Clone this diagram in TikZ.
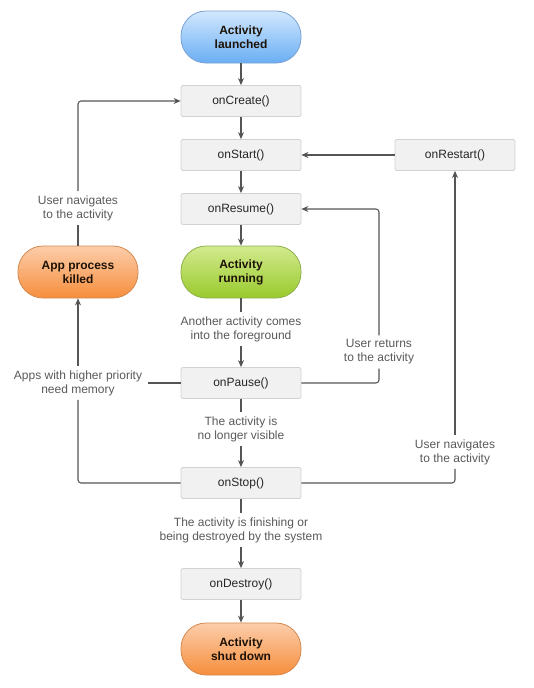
\documentclass[tikz,border=0pt]{standalone}
\usepackage{fontspec}
\setmainfont{Liberation Sans}
\usetikzlibrary{arrows.meta}
\definecolor{linec}{HTML}{555555}
\definecolor{labc}{HTML}{5A5A5A}
\definecolor{boxfill}{HTML}{F1F1F1}
\definecolor{boxdraw}{HTML}{D2D2D2}
\definecolor{bluetop}{HTML}{D2E8FF}
\definecolor{bluebot}{HTML}{6AAEF3}
\definecolor{bluedraw}{HTML}{7AA3D3}
\definecolor{greentop}{HTML}{D2EA8E}
\definecolor{greenbot}{HTML}{99CA2C}
\definecolor{greendraw}{HTML}{8FB04C}
\definecolor{orangetop}{HTML}{FCCDAA}
\definecolor{orangebot}{HTML}{F68E3C}
\definecolor{orangedraw}{HTML}{D38A52}
\definecolor{pilltext}{HTML}{1E1206}
\tikzset{
  x=1pt, y=-1pt,
  every node/.style={font=\fontsize{12}{14}\selectfont, align=center},
  callbox/.style={draw=boxdraw, fill=boxfill, rounded corners=2pt, line width=0.8pt,
    minimum width=120pt, minimum height=31pt, text=black!85, inner sep=0pt},
  pill/.style={rounded corners=25pt, line width=0.8pt, minimum width=120pt,
    minimum height=52pt, text=pilltext, inner sep=0pt, font=\fontsize{12}{14}\selectfont\bfseries},
  bluepill/.style={pill, draw=bluedraw, top color=bluetop, bottom color=bluebot},
  greenpill/.style={pill, draw=greendraw, top color=greentop, bottom color=greenbot},
  orangepill/.style={pill, draw=orangedraw, top color=orangetop, bottom color=orangebot},
  lab/.style={text=labc, inner sep=4pt},
  conn/.style={draw=linec, line width=1.05pt, rounded corners=3pt},
  arr/.style={conn, -{Stealth[length=7pt,width=6pt]}},
}
\begin{document}
\begin{tikzpicture}
\useasboundingbox (0,0) rectangle (533,688);
\fill[white] (0,0) rectangle (533,688);

\node[bluepill] (launched) at (241,37) {Activity\\launched};
\node[callbox] (create) at (241,101) {onCreate()};
\node[callbox] (start) at (241,155) {onStart()};
\node[callbox] (restart) at (455,155) {onRestart()};
\node[callbox] (resume) at (241,209) {onResume()};
\node[greenpill] (running) at (241,272) {Activity\\running};
\node[orangepill] (killed) at (78,272) {App process\\killed};
\node[callbox] (pause) at (241,383) {onPause()};
\node[callbox] (stop) at (241,483) {onStop()};
\node[callbox] (destroy) at (241,584) {onDestroy()};
\node[orangepill] (shut) at (241,649) {Activity\\shut down};

\node[lab] (lforeground) at (241,329) {Another activity comes\\into the foreground};
\node[lab] (lvisible) at (241,429) {The activity is\\no longer visible};
\node[lab] (lfinish) at (241,530) {The activity is finishing or\\being destroyed by the system};
\node[lab] (lreturn) at (379,352) {User returns\\to the activity};
\node[lab] (lnavright) at (455,452) {User navigates\\to the activity};
\node[lab] (lnavleft) at (78,208) {User navigates\\to the activity};
\node[lab, inner xsep=6pt] (lmemory) at (78,383) {Apps with higher priority\\need memory};

\coordinate (cstopleft) at (78,483);
\coordinate (cstopright) at (455,483);
\coordinate (cpauseright) at (379,383);

% main column
\draw[arr] (launched) -- (create);
\draw[arr] (create) -- (start);
\draw[arr] (start) -- (resume);
\draw[arr] (resume) -- (running);
\draw[conn] (running) -- (lforeground);
\draw[arr] (lforeground) -- (pause);
\draw[conn] (pause) -- (lvisible);
\draw[arr] (lvisible) -- (stop);
\draw[conn] (stop) -- (lfinish);
\draw[arr] (lfinish) -- (destroy);
\draw[arr] (destroy) -- (shut);

% restart loop
\draw[arr] (restart) -- (start);
\draw[conn] (stop.east) -- (cstopright) -- (lnavright.south);
\draw[arr] (lnavright) -- (restart);

% user returns loop
\draw[conn] (pause.east) -- (cpauseright) -- (lreturn.south);
\draw[arr] (lreturn.north) |- (resume.east);

% app killed loop
\draw[conn] (pause.west) -- (lmemory.east);
\draw[conn] (stop.west) -- (cstopleft) -- (lmemory.south);
\draw[arr] (lmemory) -- (killed);
\draw[conn] (killed) -- (lnavleft);
\draw[arr] (lnavleft.north) |- (create.west);
\end{tikzpicture}
\end{document}
